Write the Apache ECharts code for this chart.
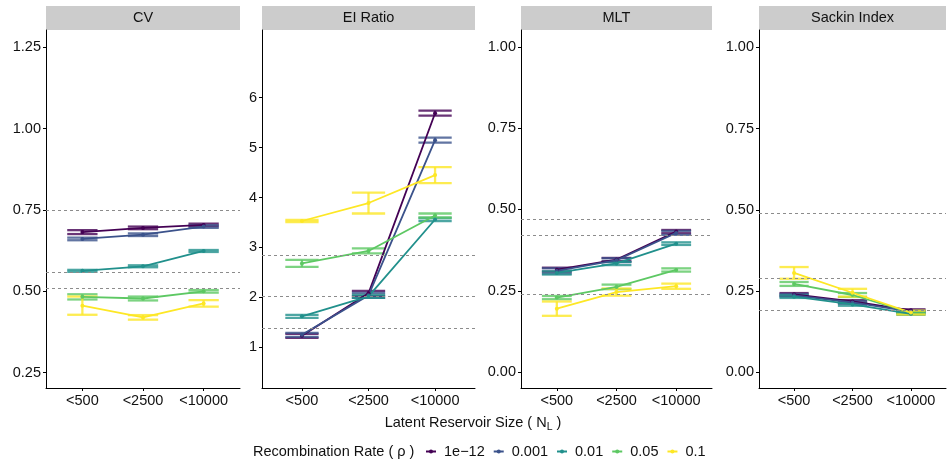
<!DOCTYPE html>
<html>
<head>
<meta charset="utf-8">
<title>Tree statistics by latent reservoir size</title>
<script src="https://cdn.jsdelivr.net/npm/echarts@6/dist/echarts.min.js"></script>
<style>
  html, body { margin: 0; padding: 0; background: #ffffff; }
  #chart { width: 947px; height: 463px; }
</style>
</head>
<body>
<div id="chart"></div>
<script>
// Latent reservoir size classes (x categories) and recombination rates (series)
const sizes = ['<500', '<2500', '<10000'];
const rhoLabels = ['1e\u221212', '0.001', '0.01', '0.05', '0.1'];

// CV: mean and error half-width, one row per recombination rate
const cvMean = [
  [0.682, 0.695, 0.704],
  [0.661, 0.674, 0.699],
  [0.563, 0.577, 0.624],
  [0.483, 0.478, 0.500],
  [0.456, 0.420, 0.463]
];
const cvErr = [
  [0.006, 0.004, 0.004],
  [0.004, 0.004, 0.004],
  [0.003, 0.003, 0.003],
  [0.008, 0.006, 0.004],
  [0.028, 0.007, 0.010]
];
const cvRef = [0.753, 0.561, 0.511];
const cvTicks = [0.25, 0.50, 0.75, 1.00, 1.25];

// EI Ratio
const eiMean = [
  [1.23, 2.08, 5.69],
  [1.25, 2.04, 5.15],
  [1.62, 2.02, 3.56],
  [2.68, 2.93, 3.64],
  [3.53, 3.89, 4.45]
];
const eiErr = [
  [0.04, 0.05, 0.05],
  [0.04, 0.05, 0.05],
  [0.03, 0.03, 0.03],
  [0.07, 0.05, 0.04],
  [0.02, 0.21, 0.16]
];
const eiRef = [2.846, 2.02, 1.38];
const eiTicks = [1, 2, 3, 4, 5, 6];

// MLT
const mltMean = [
  [0.315, 0.346, 0.432],
  [0.311, 0.344, 0.428],
  [0.305, 0.334, 0.395],
  [0.229, 0.262, 0.314],
  [0.195, 0.246, 0.264]
];
const mltErr = [
  [0.006, 0.005, 0.005],
  [0.008, 0.006, 0.006],
  [0.005, 0.005, 0.004],
  [0.005, 0.007, 0.005],
  [0.022, 0.011, 0.008]
];
const mltRef = [0.466, 0.418, 0.244];
const mltTicks = [0.00, 0.25, 0.50, 0.75, 1.00];

// Sackin Index
const sackinMean = [
  [0.240, 0.218, 0.191],
  [0.237, 0.215, 0.187],
  [0.233, 0.209, 0.180],
  [0.272, 0.238, 0.184],
  [0.306, 0.245, 0.184]
];
const sackinErr = [
  [0.004, 0.004, 0.003],
  [0.004, 0.004, 0.003],
  [0.004, 0.004, 0.003],
  [0.006, 0.006, 0.003],
  [0.018, 0.012, 0.006]
];
const sackinRef = [0.488, 0.287, 0.186];
const sackinTicks = [0.00, 0.25, 0.50, 0.75, 1.00];

// viridis(5)
const colors = ['#440154', '#3B528B', '#21908C', '#5DC863', '#FDE725'];

const FONT = 'Liberation Sans, Arial, Helvetica, sans-serif';
const FS = 14.5;
const TOP = 30, HEIGHT = 358, STRIP_H = 24;

const panels = [
  { title: 'CV', mean: cvMean, err: cvErr, ref: cvRef, ticks: cvTicks, min: 0.203, max: 1.303, digits: 2, left: 46, width: 194 },
  { title: 'EI Ratio', mean: eiMean, err: eiErr, ref: eiRef, ticks: eiTicks, min: 0.184, max: 7.357, digits: 0, left: 262, width: 213 },
  { title: 'MLT', mean: mltMean, err: mltErr, ref: mltRef, ticks: mltTicks, min: -0.049, max: 1.052, digits: 2, left: 521, width: 191 },
  { title: 'Sackin Index', mean: sackinMean, err: sackinErr, ref: sackinRef, ticks: sackinTicks, min: -0.048, max: 1.053, digits: 2, left: 759, width: 187 }
];

const grids = [], xAxes = [], yAxes = [], series = [], graphics = [];

function errorBarRenderer(color) {
  return function (params, api) {
    const x = api.value(0), lo = api.value(1), hi = api.value(2);
    const half = 0.25;
    const top = api.coord([x, hi]), bot = api.coord([x, lo]);
    const tl = api.coord([x - half, hi]), tr = api.coord([x + half, hi]);
    const bl = api.coord([x - half, lo]), br = api.coord([x + half, lo]);
    const style = { stroke: color, lineWidth: 2.3, opacity: 0.8 };
    return {
      type: 'group',
      children: [
        { type: 'line', shape: { x1: top[0], y1: top[1], x2: bot[0], y2: bot[1] }, style: style },
        { type: 'line', shape: { x1: tl[0], y1: tl[1], x2: tr[0], y2: tr[1] }, style: style },
        { type: 'line', shape: { x1: bl[0], y1: bl[1], x2: br[0], y2: br[1] }, style: style }
      ]
    };
  };
}

panels.forEach(function (p, i) {
  grids.push({ left: p.left, top: TOP, width: p.width, height: HEIGHT, containLabel: false });

  xAxes.push({
    type: 'value', gridIndex: i, min: 0.4, max: 3.6,
    axisLine: { show: true, onZero: false, lineStyle: { color: '#000', width: 1 } },
    axisTick: { show: true, length: 3, customValues: [1, 2, 3], lineStyle: { color: '#000' } },
    axisLabel: {
      customValues: [1, 2, 3], margin: 5, color: '#111', fontFamily: FONT, fontSize: FS,
      formatter: function (v) { return sizes[Math.round(v) - 1]; }
    },
    splitLine: { show: false }
  });

  yAxes.push({
    type: 'value', gridIndex: i, min: p.min, max: p.max,
    axisLine: { show: true, onZero: false, lineStyle: { color: '#000', width: 1 } },
    axisTick: { show: true, length: 3, customValues: p.ticks, lineStyle: { color: '#000' } },
    axisLabel: {
      customValues: p.ticks, margin: 5, color: '#111', fontFamily: FONT, fontSize: FS,
      formatter: function (v) { return v.toFixed(p.digits); }
    },
    splitLine: { show: false }
  });

  // dashed reference levels
  series.push({
    type: 'line', xAxisIndex: i, yAxisIndex: i, data: [], silent: true, z: 1,
    markLine: {
      silent: true, symbol: 'none', label: { show: false },
      lineStyle: { color: '#8c8c8c', width: 1, type: [3, 3] },
      data: p.ref.map(function (v) { return { yAxis: v }; })
    }
  });

  p.mean.forEach(function (row, s) {
    series.push({
      type: 'custom', xAxisIndex: i, yAxisIndex: i, z: 2,
      renderItem: errorBarRenderer(colors[s]),
      data: row.map(function (m, k) { return [k + 1, m - p.err[s][k], m + p.err[s][k]]; })
    });
  });

  p.mean.forEach(function (row, s) {
    series.push({
      name: rhoLabels[s], type: 'line', xAxisIndex: i, yAxisIndex: i, z: 3,
      symbol: 'circle', symbolSize: 4, showSymbol: true,
      itemStyle: { color: colors[s] },
      lineStyle: { color: colors[s], width: 1.8 },
      data: row.map(function (m, k) { return [k + 1, m]; })
    });
  });

  // facet strip
  graphics.push({
    type: 'rect', left: p.left, top: TOP - STRIP_H, z: 0,
    shape: { width: p.width, height: STRIP_H },
    style: { fill: '#cccccc' }
  });
  graphics.push({
    type: 'text', x: p.left + p.width / 2, y: TOP - STRIP_H / 2, z: 1,
    style: { text: p.title, fill: '#111', font: FS + 'px ' + FONT, align: 'center', verticalAlign: 'middle' }
  });
});

// x axis title with subscript
graphics.push({
  type: 'text', x: 473, y: 423,
  style: {
    text: '{a|Latent Reservoir Size ( N}{s|L}{a| )}',
    align: 'center', verticalAlign: 'middle',
    rich: {
      a: { fontFamily: FONT, fontSize: FS, fill: '#111', color: '#111' },
      s: { fontFamily: FONT, fontSize: 10.5, fill: '#111', color: '#111', padding: [9, 0, 0, 0] }
    }
  }
});

// legend title
graphics.push({
  type: 'text', x: 253, y: 452,
  style: { text: 'Recombination Rate ( \u03c1 )', fill: '#111', font: FS + 'px ' + FONT, align: 'left', verticalAlign: 'middle' }
});

const chart = echarts.init(document.getElementById('chart'), null, { renderer: 'canvas' });
chart.setOption({
  backgroundColor: '#ffffff',
  animation: false,
  grid: grids,
  xAxis: xAxes,
  yAxis: yAxes,
  legend: {
    data: rhoLabels, left: 425, top: 444, orient: 'horizontal', padding: 0,
    itemWidth: 10, itemHeight: 5, itemGap: 8,
    textStyle: { fontFamily: FONT, fontSize: FS, color: '#111', padding: [0, 0, 0, 3] }
  },
  graphic: graphics,
  series: series
});
</script>
</body>
</html>
